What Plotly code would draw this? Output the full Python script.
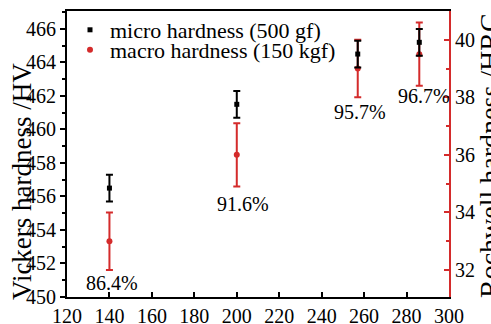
import plotly.graph_objects as go

# ---- data ----
load_x = [140, 200, 257, 286]
micro_hv = [456.5, 461.5, 464.5, 465.2]
micro_err = [0.8, 0.8, 0.8, 0.8]
macro_hrc = [33.0, 36.0, 39.0, 39.5]
macro_err = [1.0, 1.1, 1.0, 1.1]
ratio_labels = ["86.4%", "91.6%", "95.7%", "96.7%"]
label_x = [141, 203, 258, 288]
label_hv = [450.85, 455.55, 461.05, 462.0]

x_ticks = list(range(120, 301, 20))
hv_ticks = list(range(450, 467, 2))
hrc_ticks = list(range(32, 41, 2))

RED = "#d42b2b"
FONT = "Liberation Serif"

fig = go.Figure()

fig.add_trace(go.Scatter(
    x=load_x, y=micro_hv, mode="markers", name="micro hardness (500 gf)",
    yaxis="y2", legend="legend",
    marker=dict(symbol="square", size=5, color="black"),
    error_y=dict(type="data", array=micro_err, color="black", thickness=2, width=3.5),
))
fig.add_trace(go.Scatter(
    x=load_x, y=macro_hrc, mode="markers", name="macro hardness (150 kgf)",
    yaxis="y", legend="legend2",
    marker=dict(symbol="circle", size=6, color=RED),
    error_y=dict(type="data", array=macro_err, color=RED, thickness=2, width=3.5),
))

for lx, ly, lt in zip(label_x, label_hv, ratio_labels):
    fig.add_annotation(x=lx, y=ly, xref="x", yref="y2", text=lt, showarrow=False,
                       font=dict(family=FONT, size=20, color="black"))

W, H = 491, 324
L, R, T, B = 67, 42, 11, 27
pw, ph = W - L - R, H - T - B

def px_to_paper(px, py):
    return (px - L) / pw, (H - B - py) / ph

ax, ay = px_to_paper(22, 182)
fig.add_annotation(x=ax, y=ay, xref="paper", yref="paper", text="Vickers hardness /HV",
                   textangle=-90, showarrow=False, xanchor="center", yanchor="middle",
                   font=dict(family=FONT, size=27, color="black"))
bx, by = px_to_paper(489, 156)
fig.add_annotation(x=bx, y=by, xref="paper", yref="paper", text="Rochwell hardness /HRC",
                   textangle=-90, showarrow=False, xanchor="center", yanchor="middle",
                   font=dict(family=FONT, size=28, color="black"))

l1x, l1y = px_to_paper(70, 30)
l2x, l2y = px_to_paper(70, 50)

fig.update_layout(
    width=W, height=H,
    margin=dict(l=L, r=R, t=T, b=B, autoexpand=False),
    paper_bgcolor="white", plot_bgcolor="white",
    font=dict(family=FONT, size=20, color="black"),
    showlegend=True,
    legend=dict(x=l1x, y=l1y, xanchor="left", yanchor="middle", bgcolor="rgba(0,0,0,0)",
                font=dict(family=FONT, size=22), itemwidth=30, borderwidth=0),
    legend2=dict(x=l2x, y=l2y, xanchor="left", yanchor="middle", bgcolor="rgba(0,0,0,0)",
                 font=dict(family=FONT, size=22), itemwidth=30, borderwidth=0),
    xaxis=dict(range=[120, 300], tickvals=x_ticks, ticks="inside", ticklen=5, tickwidth=1.5,
               tickcolor="black", showline=True, linecolor="black", linewidth=2, mirror=True,
               showgrid=False, zeroline=False, anchor="y",
               tickfont=dict(family=FONT, size=20, color="black")),
    yaxis=dict(range=[31.06, 41.0], side="right", tickvals=hrc_ticks, ticks="inside", ticklen=5,
               tickwidth=1.5, tickcolor=RED, showline=True, linecolor=RED, linewidth=2,
               showgrid=False, zeroline=False,
               minor=dict(dtick=1, tick0=31, ticks="inside", ticklen=3, tickcolor=RED, tickwidth=1.5),
               tickfont=dict(family=FONT, size=20, color="black")),
    yaxis2=dict(range=[450, 467.07], side="left", overlaying="y", tickvals=hv_ticks,
                ticks="outside", ticklen=5, tickwidth=1.5, tickcolor="black",
                showline=True, linecolor="black", linewidth=2, showgrid=False, zeroline=False,
                minor=dict(dtick=1, tick0=451, ticks="outside", ticklen=3, tickcolor="black", tickwidth=1.5),
                tickfont=dict(family=FONT, size=20, color="black")),
)

fig.write_html("out.html", config={"displayModeBar": False},
               post_script="document.body.style.margin='0';")
